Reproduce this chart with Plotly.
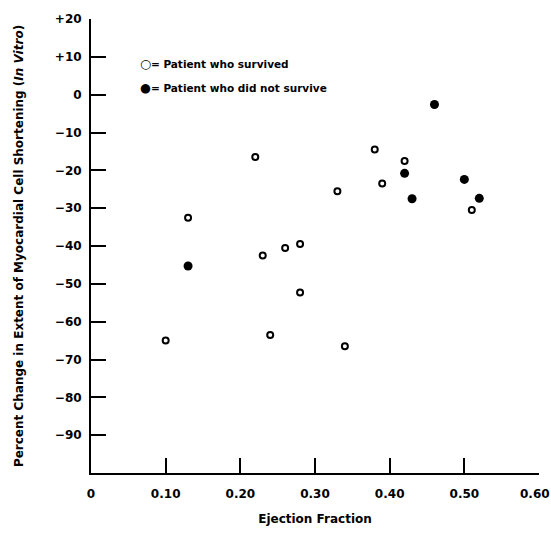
import plotly.graph_objects as go

# Data
surv_x = [0.10, 0.13, 0.22, 0.23, 0.24, 0.26, 0.28, 0.28, 0.33, 0.34, 0.38, 0.39, 0.42, 0.51]
surv_y = [-65.0, -32.5, -16.5, -42.5, -63.5, -40.5, -39.5, -52.3, -25.5, -66.5, -14.5, -23.5, -17.5, -30.5]
died_x = [0.13, 0.42, 0.43, 0.46, 0.50, 0.52]
died_y = [-45.3, -20.8, -27.5, -2.6, -22.4, -27.4]

series_names = ["Patient who survived", "Patient who did not survive"]

x_tickvals = [0, 0.1, 0.2, 0.3, 0.4, 0.5, 0.6]
x_ticktext = ["0", "0.10", "0.20", "0.30", "0.40", "0.50", "0.60\u00a0\u00a0"]
y_tickvals = [20, 10, 0, -10, -20, -30, -40, -50, -60, -70, -80, -90]
y_ticktext = ["+20", "+10", "0", "\u221210", "\u221220", "\u221230", "\u221240",
              "\u221250", "\u221260", "\u221270", "\u221280", "\u221290"]

FONT = "DejaVu Sans, Liberation Sans, sans-serif"

fig = go.Figure()
fig.add_trace(go.Scatter(
    x=surv_x, y=surv_y, mode="markers", name=series_names[0], showlegend=False,
    marker=dict(symbol="circle-open", size=6, color="black", line=dict(width=2, color="black")),
))
fig.add_trace(go.Scatter(
    x=died_x, y=died_y, mode="markers", name=series_names[1], showlegend=False,
    marker=dict(symbol="circle", size=9, color="black"),
))

# Key drawn as text, as in the original figure
key_font = dict(size=10.5, family=FONT, weight="bold", color="black")
fig.add_annotation(xref="paper", yref="paper", x=0.105, y=0.903, xanchor="left", yanchor="middle",
                   showarrow=False,
                   text="<span style='font-size:12.5px;font-weight:normal'>\u25CB</span>= " + series_names[0],
                   font=key_font)
fig.add_annotation(xref="paper", yref="paper", x=0.105, y=0.850, xanchor="left", yanchor="middle",
                   showarrow=False,
                   text="<span style='font-size:12.5px'>\u25CF</span>= " + series_names[1],
                   font=key_font)

fig.update_layout(
    width=551, height=535,
    margin=dict(l=91, r=12, t=19, b=62),
    paper_bgcolor="white", plot_bgcolor="white",
    font=dict(family=FONT, color="black", size=12, weight="bold"),
    showlegend=False,
)
fig.update_xaxes(
    range=[0, 0.6], tickvals=x_tickvals, ticktext=x_ticktext,
    showline=True, linecolor="black", linewidth=2, mirror=False,
    ticks="inside", ticklen=15, tickwidth=2, tickcolor="black",
    showgrid=False, zeroline=False, automargin="bottom", ticklabelstandoff=9,
    ticklabeloverflow="allow",
    tickfont=dict(size=12, family=FONT, weight="bold"),
    title=dict(text="Ejection Fraction", font=dict(size=12, family=FONT, weight="bold"), standoff=14),
)
fig.update_yaxes(
    range=[-100, 20], tickvals=y_tickvals, ticktext=y_ticktext,
    showline=True, linecolor="black", linewidth=2, mirror=False,
    ticks="inside", ticklen=15, tickwidth=2, tickcolor="black",
    showgrid=False, zeroline=False, automargin="left", ticklabelstandoff=5,
    tickfont=dict(size=12, family=FONT, weight="bold"),
    title=dict(text="Percent Change in Extent of Myocardial Cell Shortening (<i>In Vitro</i>)",
               font=dict(size=12, family=FONT, weight="bold"), standoff=29),
)

fig.write_html("out.html", config={"displayModeBar": False},
               post_script="document.body.style.margin='0px';")
